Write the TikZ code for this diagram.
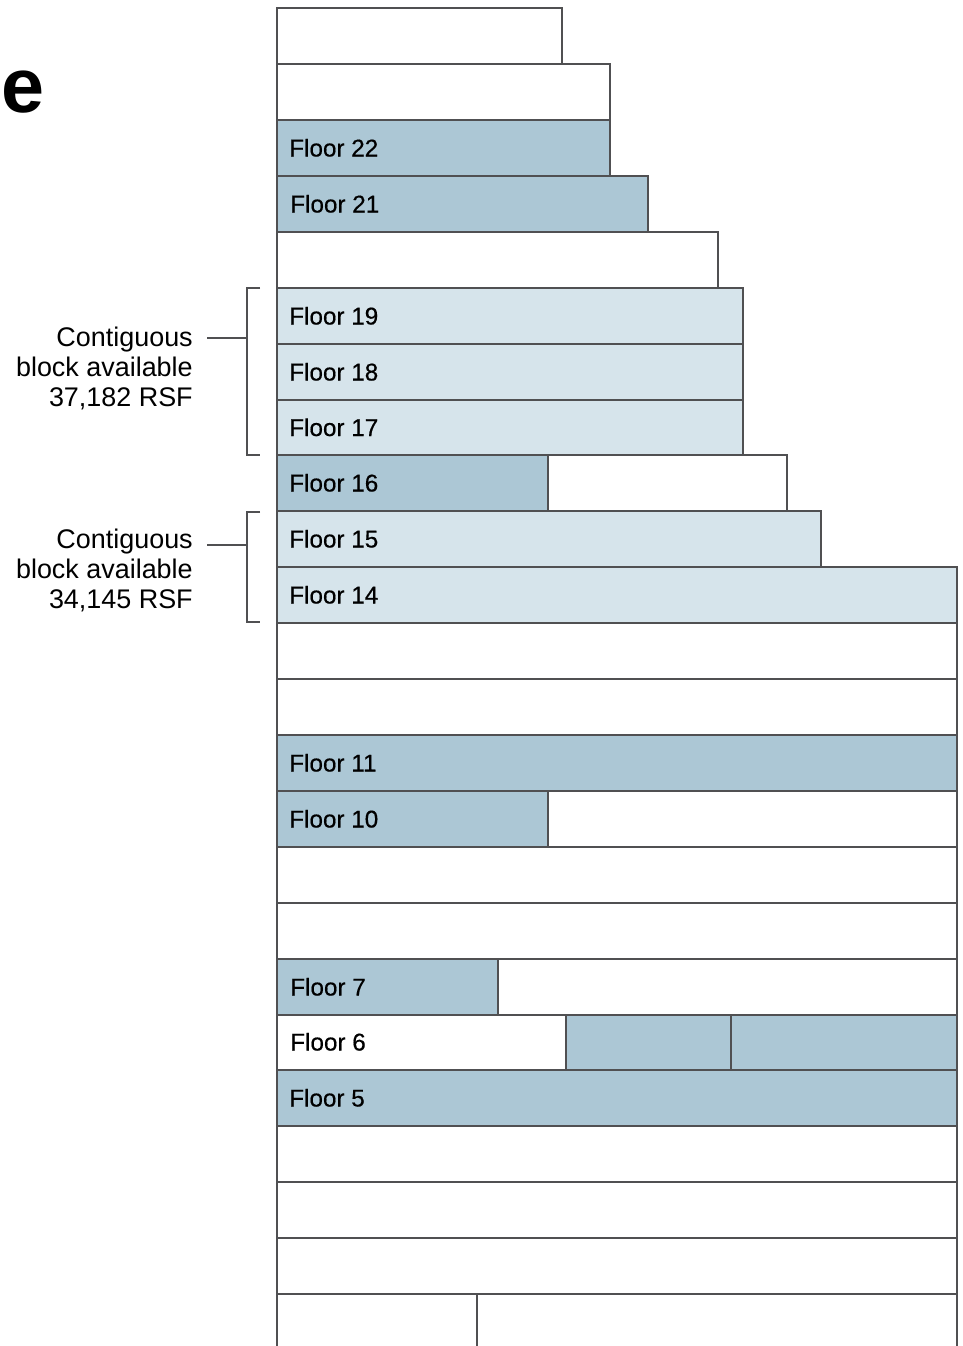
\documentclass[tikz,border=0pt]{standalone}
\usepackage{fontspec}
\setmainfont{Liberation Sans}
\newfontfamily\medfont[FakeBold=0.5]{Liberation Sans}
\definecolor{mid}{HTML}{ACC7D5}
\definecolor{lite}{HTML}{D6E4EB}
\definecolor{edge}{HTML}{505052}
\begin{document}
\begin{tikzpicture}[x=0.75pt,y=-0.75pt,
  cell/.style={draw=edge,line width=1.6pt},
  flab/.style={anchor=base west,inner sep=0pt,font=\medfont\fontsize{18.2}{20}\selectfont},
  side/.style={anchor=east,align=right,inner sep=0pt,font=\fontsize{20.2}{22.5}\selectfont},
  brk/.style={draw=edge,line width=1.3pt}]
\useasboundingbox (0,0) rectangle (963,1346);
\fill[white] (0,0) rectangle (963,1346);
% title fragment
\node[anchor=base east,inner sep=0pt,font=\fontsize{58}{60}\selectfont\bfseries] (title) at (44.5,112) {e};
% floors
\filldraw[cell,fill=white] (277,8) rectangle (562,64);
\filldraw[cell,fill=white] (277,64) rectangle (610,120);
\filldraw[cell,fill=mid] (277,120) rectangle (610,176);
\filldraw[cell,fill=mid] (277,176) rectangle (648,232);
\filldraw[cell,fill=white] (277,232) rectangle (718,288);
\filldraw[cell,fill=lite] (277,288) rectangle (743,344);
\filldraw[cell,fill=lite] (277,344) rectangle (743,400);
\filldraw[cell,fill=lite] (277,400) rectangle (743,455);
\filldraw[cell,fill=mid] (277,455) rectangle (548,511);
\filldraw[cell,fill=white] (548,455) rectangle (787,511);
\filldraw[cell,fill=lite] (277,511) rectangle (821,567);
\filldraw[cell,fill=lite] (277,567) rectangle (957,623);
\filldraw[cell,fill=white] (277,623) rectangle (957,679);
\filldraw[cell,fill=white] (277,679) rectangle (957,735);
\filldraw[cell,fill=mid] (277,735) rectangle (957,791);
\filldraw[cell,fill=mid] (277,791) rectangle (548,847);
\filldraw[cell,fill=white] (548,791) rectangle (957,847);
\filldraw[cell,fill=white] (277,847) rectangle (957,903);
\filldraw[cell,fill=white] (277,903) rectangle (957,959);
\filldraw[cell,fill=mid] (277,959) rectangle (498,1015);
\filldraw[cell,fill=white] (498,959) rectangle (957,1015);
\filldraw[cell,fill=white] (277,1015) rectangle (566,1070);
\filldraw[cell,fill=mid] (566,1015) rectangle (731,1070);
\filldraw[cell,fill=mid] (731,1015) rectangle (957,1070);
\filldraw[cell,fill=mid] (277,1070) rectangle (957,1126);
\filldraw[cell,fill=white] (277,1126) rectangle (957,1182);
\filldraw[cell,fill=white] (277,1182) rectangle (957,1238);
\filldraw[cell,fill=white] (277,1238) rectangle (957,1294);
\filldraw[cell,fill=white] (277,1294) rectangle (477,1370);
\filldraw[cell,fill=white] (477,1294) rectangle (957,1370);
% floor labels
\node[flab] (f22) at (289,156.5) {Floor 22};
\node[flab] (f21) at (290,212.5) {Floor 21};
\node[flab] (f19) at (289,324.5) {Floor 19};
\node[flab] (f18) at (289,380.5) {Floor 18};
\node[flab] (f17) at (289,436) {Floor 17};
\node[flab] (f16) at (289,491.5) {Floor 16};
\node[flab] (f15) at (289,547.5) {Floor 15};
\node[flab] (f14) at (289,603.5) {Floor 14};
\node[flab] (f11) at (289,771.5) {Floor 11};
\node[flab] (f10) at (289,827.5) {Floor 10};
\node[flab] (f7) at (290,995.5) {Floor 7};
\node[flab] (f6) at (290,1050.5) {Floor 6};
\node[flab] (f5) at (289,1106.5) {Floor 5};
% brackets
\draw[brk] (260,288) -- (247,288) -- (247,455) -- (260,455);
\draw[brk] (207,338) -- (247,338);
\draw[brk] (260,512) -- (247,512) -- (247,622) -- (260,622);
\draw[brk] (207,545) -- (247,545);
% side labels
\node[side] (b1) at (193,368) {Contiguous\\block available\\37,182 RSF};
\node[side] (b2) at (193,570) {Contiguous\\block available\\34,145 RSF};
\end{tikzpicture}
\end{document}
